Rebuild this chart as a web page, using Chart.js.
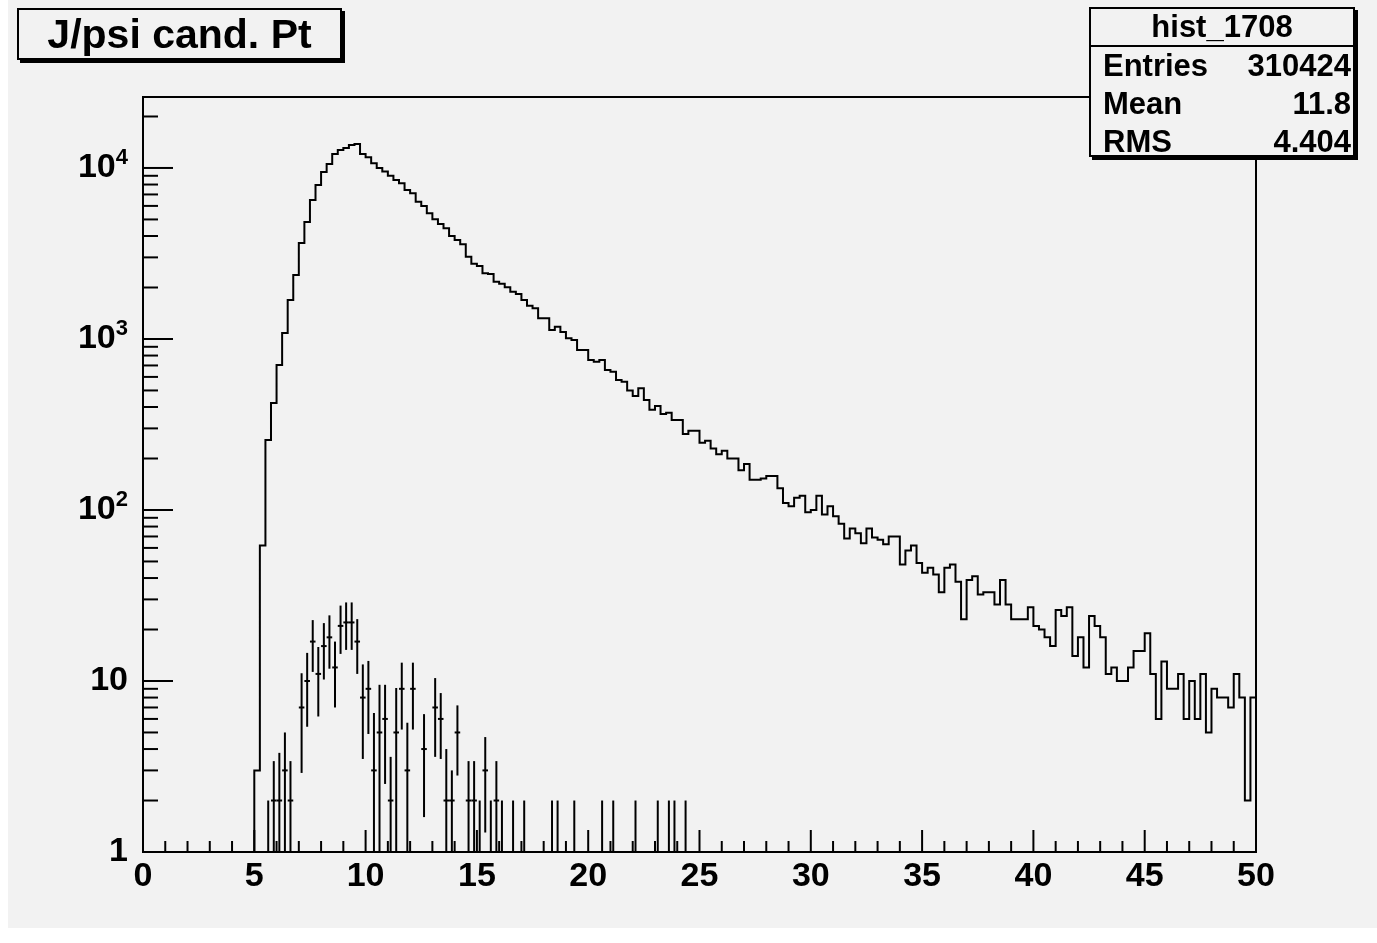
<!DOCTYPE html>
<html>
<head>
<meta charset="utf-8">
<title>J/psi cand. Pt</title>
<script src="https://cdn.jsdelivr.net/npm/chart.js"></script>
<style>
  html, body { margin: 0; padding: 0; background: #ffffff; }
  body { width: 1377px; height: 943px; position: relative; overflow: hidden;
         font-family: "Liberation Sans", Arial, sans-serif; font-weight: bold; color: #000; }
  #pad { position: absolute; left: 8px; top: 0; width: 1369px; height: 928px; background: #f2f2f2; }
  canvas { position: absolute; left: 0; top: 0; }
  .box { position: absolute; background: #f2f2f2; border: 2px solid #000;
         box-shadow: 3px 3px 0 #000; box-sizing: border-box; }
  #title { left: 17px; top: 8px; width: 325px; height: 52px;
           font-size: 41px; line-height: 48px; text-align: center; }
  #stats { left: 1089px; top: 7px; width: 266px; height: 150px; font-size: 31px; }
  #stats .head { height: 36px; line-height: 36px; text-align: center; border-bottom: 2px solid #000; }
  #stats .row { height: 38px; line-height: 38px; padding: 0 2px 0 12px; display: flex; justify-content: space-between; }
</style>
</head>
<body>
<div id="pad"></div>
<canvas id="histChart" width="1377" height="943"></canvas>
<div class="box" id="title">J/psi cand. Pt</div>
<div class="box" id="stats">
  <div class="head">hist_1708</div>
  <div class="row"><span>Entries</span><span>310424</span></div>
  <div class="row"><span>Mean</span><span>11.8</span></div>
  <div class="row"><span>RMS</span><span>4.404</span></div>
</div>
<script>
// binning: 200 bins from 0 to 50 GeV
var xLow = 0, xHigh = 50, nBins = 200;
var yMin = 1, yMax = 26000;

// all J/psi candidates (bin contents)
var candCounts = [
  0, 0, 0, 0, 0, 0, 0, 0, 0, 0, 0, 0, 0, 0, 0, 0, 0, 0, 0, 0,
  3, 62, 257, 422, 705, 1085, 1690, 2365, 3640, 4830,
  6500, 7960, 9480, 10550, 12080, 12740, 13100, 13640, 13800, 12080,
  11550, 10650, 9980, 9520, 9000, 8500, 8130, 7430, 7110, 6350,
  5990, 5430, 5010, 4700, 4440, 4000, 3790, 3580, 3030, 2750,
  2670, 2420, 2400, 2160, 2100, 2005, 1890, 1830, 1690, 1565,
  1510, 1320, 1320, 1130, 1180, 1100, 1010, 986, 862, 862,
  754, 737, 754, 659, 644, 576, 563, 499, 464, 515,
  440, 385, 406, 364, 370, 336, 336, 278, 291, 291,
  247, 254, 229, 212, 222, 200, 200, 171, 186, 150,
  150, 153, 158, 158, 134, 110, 105, 118, 121, 97,
  100, 121, 94, 105, 92, 83, 68, 78, 73, 64,
  78, 69, 67, 63, 70, 70, 48, 58, 62, 49,
  43, 46, 42, 33, 46, 48, 38, 23, 39, 41,
  32, 33, 33, 28, 39, 28, 23, 23, 23, 27,
  21, 20, 18, 16, 26, 24, 27, 14, 18, 12,
  24, 21, 18, 11, 12, 10, 10, 12, 15, 15,
  19, 11, 6, 13, 9, 9, 11, 6, 10, 6,
  11, 5, 9, 8, 8, 7, 11, 8, 2, 8
];

// second histogram, drawn with error bars: contents and errors per bin
var markedCounts = [
  0, 0, 0, 0, 0, 0, 0, 0, 0, 0, 0, 0, 0, 0, 0, 0, 0, 0, 0, 0,
  0, 0, 1, 2, 2, 3, 2, 0, 7, 10,
  17, 11, 16, 18, 12, 21, 22, 22, 17, 8,
  9, 3, 5, 6, 2, 5, 9, 3, 9, 0,
  4, 0, 7, 6, 2, 2, 5, 0, 2, 2,
  1, 3, 1, 2, 1, 0, 1, 0, 1, 0,
  0, 0, 0, 1, 1, 0, 0, 1, 0, 0,
  0, 0, 1, 0, 1, 0, 0, 0, 1, 0,
  0, 0, 1, 0, 1, 1, 0, 1, 0, 0
];
var markedErrors = [
  0, 0, 0, 0, 0, 0, 0, 0, 0, 0, 0, 0, 0, 0, 0, 0, 0, 0, 0, 0,
  0, 0, 1, 1.4, 1.8, 2.0, 1.4, 0, 4.1, 4.6,
  5.7, 4.8, 5.8, 6.2, 5.0, 6.6, 6.8, 6.8, 6.0, 4.5,
  4.1, 3.5, 4.5, 3.5, 1.6, 4.1, 3.8, 2.7, 3.8, 0,
  2.4, 0, 3.4, 2.5, 2.0, 1.0, 2.2, 0, 1.4, 1.4,
  1, 1.7, 1, 1.4, 1, 0, 1, 0, 1, 0,
  0, 0, 0, 1, 1, 0, 0, 1, 0, 0,
  0, 0, 1, 0, 1, 0, 0, 0, 1, 0,
  0, 0, 1, 0, 1, 1, 0, 1, 0, 0
];

var xTickLabels = ['0', '5', '10', '15', '20', '25', '30', '35', '40', '45', '50'];
var yDecades = [0, 1, 2, 3, 4];

var binWidth = (xHigh - xLow) / nBins;

// step outline: one point per bin low edge, plus the closing edge
var outline = candCounts.map(function(c, i) {
    return { x: xLow + i * binWidth, y: Math.max(c, yMin) };
});
outline.push({ x: xHigh, y: Math.max(candCounts[nBins - 1], yMin) });

function seg(ctx, x1, y1, x2, y2) {
    ctx.beginPath();
    ctx.moveTo(x1, y1);
    ctx.lineTo(x2, y2);
    ctx.stroke();
}

var FONT = '"Liberation Sans", Arial, sans-serif';

var rootStyle = {
    id: 'rootStyle',
    afterDatasetsDraw: function(chart) {
        var ctx = chart.ctx, a = chart.chartArea;
        var xs = chart.scales.x, ys = chart.scales.y;
        ctx.save();
        ctx.beginPath();
        ctx.rect(a.left, a.top, a.right - a.left, a.bottom - a.top);
        ctx.clip();
        ctx.strokeStyle = '#000';
        ctx.lineWidth = 2;
        markedCounts.forEach(function(n, i) {
            if (!n) return;
            var c = xLow + (i + 0.5) * binWidth;
            var px = xs.getPixelForValue(c);
            var err = markedErrors[i];
            seg(ctx, px, ys.getPixelForValue(Math.max(n - err, yMin)), px, ys.getPixelForValue(n + err));
            var py = ys.getPixelForValue(n);
            seg(ctx, xs.getPixelForValue(c - 0.5 * binWidth), py, xs.getPixelForValue(c + 0.5 * binWidth), py);
        });
        ctx.restore();
    },
    afterDraw: function(chart) {
        var ctx = chart.ctx, a = chart.chartArea;
        var xs = chart.scales.x, ys = chart.scales.y;
        ctx.save();
        ctx.strokeStyle = '#000';
        ctx.fillStyle = '#000';
        ctx.lineWidth = 2;
        ctx.strokeRect(a.left, a.top, a.right - a.left, a.bottom - a.top);

        // x ticks, pointing up into the frame
        for (var v = xLow; v <= xHigh; v++) {
            var px = xs.getPixelForValue(v);
            seg(ctx, px, a.bottom, px, a.bottom - (v % 5 === 0 ? 22 : 11));
        }
        // y ticks, 1..9 per decade
        for (var d = 0; d <= 4; d++) {
            for (var m = 1; m <= 9; m++) {
                var val = m * Math.pow(10, d);
                if (val > yMax) break;
                var py = ys.getPixelForValue(val);
                seg(ctx, a.left, py, a.left + (m === 1 ? 30 : 15), py);
            }
        }

        ctx.font = 'bold 34px ' + FONT;
        ctx.textAlign = 'center';
        ctx.textBaseline = 'top';
        xTickLabels.forEach(function(t) {
            ctx.fillText(t, xs.getPixelForValue(Number(t)), a.bottom + 8);
        });

        ctx.textAlign = 'right';
        ctx.textBaseline = 'middle';
        var right = a.left - 15;
        yDecades.forEach(function(d) {
            var py = ys.getPixelForValue(Math.pow(10, d));
            if (d < 2) {
                ctx.font = 'bold 34px ' + FONT;
                ctx.fillText(d === 0 ? '1' : '10', right, py);
            } else {
                ctx.font = 'bold 22px ' + FONT;
                var w = ctx.measureText(String(d)).width;
                ctx.fillText(String(d), right, py - 10);
                ctx.font = 'bold 34px ' + FONT;
                ctx.fillText('10', right - w, py);
            }
        });
        ctx.restore();
    }
};

document.addEventListener('DOMContentLoaded', function() {
    var ctx = document.getElementById('histChart').getContext('2d');
    new Chart(ctx, {
        type: 'line',
        data: {
            datasets: [{
                data: outline,
                stepped: true,
                borderColor: '#000',
                borderWidth: 2,
                pointRadius: 0,
                fill: false
            }]
        },
        options: {
            responsive: false,
            animation: false,
            events: [],
            layout: { padding: { left: 0, top: 97, right: 121, bottom: 0 } },
            plugins: { legend: { display: false }, tooltip: { enabled: false } },
            scales: {
                x: {
                    type: 'linear', min: xLow, max: xHigh,
                    ticks: { display: false }, grid: { display: false }, border: { display: false },
                    afterFit: function(s) { s.height = 91; }
                },
                y: {
                    type: 'logarithmic', min: yMin, max: yMax,
                    ticks: { display: false }, grid: { display: false }, border: { display: false },
                    afterFit: function(s) { s.width = 143; }
                }
            }
        },
        plugins: [rootStyle]
    });
});
</script>
</body>
</html>
